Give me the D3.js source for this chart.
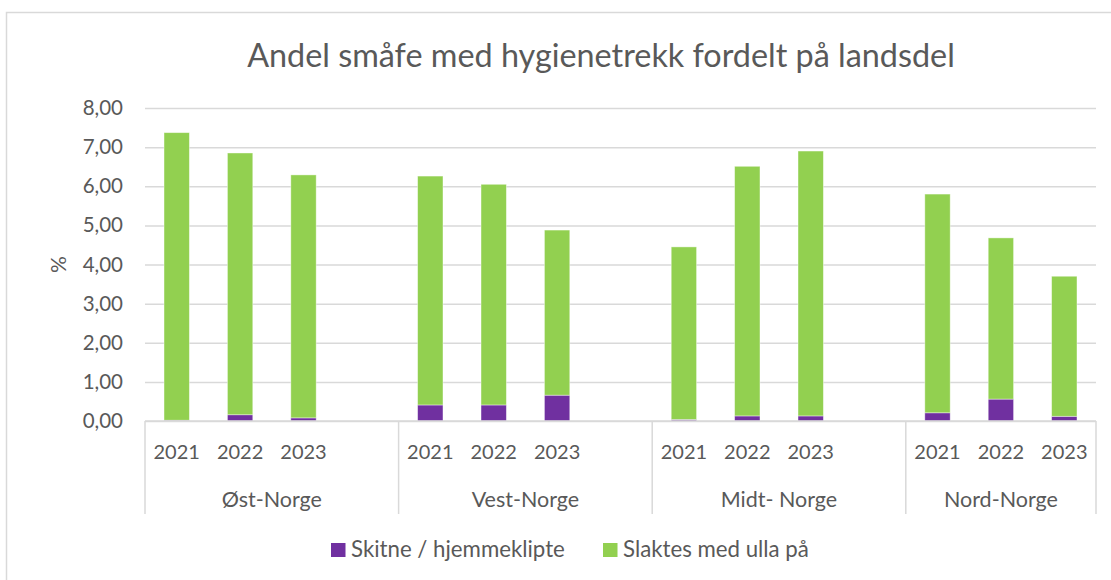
<!DOCTYPE html>
<html>
<head>
<meta charset="utf-8">
<script src="https://cdn.jsdelivr.net/npm/d3@7"></script>
<style>
  html, body { margin: 0; padding: 0; background: #fff; }
  svg { display: block; font-family: Lato, "Open Sans", sans-serif; }
</style>
</head>
<body>
<svg id="chart" width="1111" height="580"></svg>
<script>
// ---- data ----
const title = "Andel småfe med hygienetrekk fordelt på landsdel";
const regions = ["Øst-Norge", "Vest-Norge", "Midt- Norge", "Nord-Norge"];
const years = ["2021", "2022", "2023"];
const seriesNames = ["Skitne / hjemmeklipte", "Slaktes med ulla på"];
const skitne  = [0.02, 0.16, 0.08, 0.41, 0.41, 0.66, 0.04, 0.13, 0.13, 0.21, 0.56, 0.12];
const slaktes = [7.35, 6.69, 6.21, 5.85, 5.64, 4.22, 4.41, 6.38, 6.77, 5.59, 4.12, 3.58];
const yTicks = [0, 1, 2, 3, 4, 5, 6, 7, 8];
const yLabel = "%";

// ---- setup ----
const colors = ["#7030A0", "#92D050"];
const textColor = "#595959";
const gridColor = "#d9d9d9";
const svg = d3.select("#chart");

const W = 1111, H = 580;
const plot = { left: 145, right: 1096, top: 108, bottom: 421 };

// fit a text selection's font size so its first node has a target width
function fitWidth(sel, target, base) {
  sel.style("font-size", base + "px");
  const w = sel.node().getComputedTextLength();
  const fs = base * target / w;
  return fs;
}

// frame
svg.append("rect").attr("x", 6.5).attr("y", 12.5).attr("width", W).attr("height", H)
  .attr("fill", "#fff").attr("stroke", gridColor).attr("stroke-width", 1.5);

// slots: 3 years per region plus an empty slot between regions
const slots = [];
regions.forEach((r, i) => {
  years.forEach((yv, j) => {
    const k = i * years.length + j;
    slots.push({ slot: i * 4 + j, region: r, year: yv, s0: skitne[k], s1: slaktes[k] });
  });
});
const nSlots = regions.length * 4 - 1;

const x = d3.scaleBand().domain(d3.range(nSlots)).range([plot.left, plot.right])
  .paddingInner(0.6).paddingOuter(0.3);
const step = x.step();
const slotLeft = k => plot.left + k * step;
const slotCenter = k => x(k) + x.bandwidth() / 2;

const y = d3.scaleLinear().domain([0, 8]).range([plot.bottom, plot.top]);
const locale = d3.formatLocale({ decimal: ",", thousands: " ", grouping: [3], currency: ["", " kr"] });
const fmt = locale.format(".2f");

// gridlines + y labels via axis
const yAxis = svg.append("g").attr("transform", `translate(${plot.left},0)`)
  .call(d3.axisLeft(y).tickValues(yTicks).tickFormat(fmt)
    .tickSize(-(plot.right - plot.left)).tickPadding(22));
yAxis.select(".domain").remove();
yAxis.selectAll(".tick line").attr("stroke", gridColor).attr("stroke-width", 1.5);
yAxis.selectAll(".tick text").attr("fill", textColor).style("font-size", "20.5px")
  .style("font-family", "Lato, 'Open Sans', sans-serif");

// y label
svg.append("text").attr("transform", `translate(66,${(plot.top + plot.bottom) / 2}) rotate(-90)`)
  .attr("text-anchor", "middle").attr("fill", textColor).style("font-size", "21px").text(yLabel);

// stacked bars
const stack = d3.stack().keys(["s0", "s1"]);
const stacked = stack(slots);
svg.append("g").selectAll("g").data(stacked).join("g")
  .attr("fill", (d, i) => colors[i])
  .selectAll("rect").data(d => d).join("rect")
  .attr("x", d => x(d.data.slot))
  .attr("width", x.bandwidth())
  .attr("y", d => y(d[1]))
  .attr("height", d => Math.max(0, y(d[0]) - y(d[1])))
  .attr("stroke", "rgba(255,255,255,0.5)").attr("stroke-width", 0.8);

// x axis line and group dividers
const axisG = svg.append("g").attr("stroke", gridColor).attr("stroke-width", 1.5);
axisG.append("line").attr("x1", plot.left).attr("x2", plot.right)
  .attr("y1", plot.bottom).attr("y2", plot.bottom);
const dividerSlots = regions.map((r, i) => i * 4).concat([nSlots]);
axisG.selectAll("line.div").data(dividerSlots).join("line").attr("class", "div")
  .attr("x1", k => k === nSlots ? plot.right : slotLeft(k))
  .attr("x2", k => k === nSlots ? plot.right : slotLeft(k))
  .attr("y1", plot.bottom).attr("y2", 514);

// year labels
svg.append("g").selectAll("text").data(slots).join("text")
  .attr("x", d => slotCenter(d.slot)).attr("y", 459)
  .attr("text-anchor", "middle").attr("fill", textColor).style("font-size", "20px")
  .text(d => d.year);

// region labels, centred in each region's span between dividers
const regionText = svg.append("g").selectAll("text").data(regions).join("text")
  .attr("x", (d, i) => {
    const a = slotLeft(i * 4);
    const b = i === regions.length - 1 ? plot.right : slotLeft(i * 4 + 4);
    return (a + b) / 2;
  })
  .attr("y", 507)
  .attr("text-anchor", "middle").attr("fill", textColor)
  .text(d => d);
const regionFs = fitWidth(d3.select(regionText.nodes()[3]), 114, 20);
regionText.style("font-size", Math.min(regionFs, 23).toFixed(2) + "px");

// title
const t = svg.append("text").attr("x", 601).attr("y", 67).attr("text-anchor", "middle")
  .attr("fill", textColor).text(title);
t.style("font-size", fitWidth(t, 708, 28).toFixed(2) + "px");

// legend
const legendItems = [{ name: seriesNames[0], x: 331 }, { name: seriesNames[1], x: 603 }];
const lg = svg.append("g").selectAll("g").data(legendItems).join("g")
  .attr("transform", d => `translate(${d.x},543)`);
lg.append("rect").attr("width", 14.5).attr("height", 14).attr("fill", (d, i) => colors[i]);
const lt = lg.append("text").attr("x", 20).attr("y", 14).attr("fill", textColor)
  .text(d => d.name);
const legendFs = fitWidth(d3.select(lt.nodes()[0]), 214, 20);
lt.style("font-size", Math.min(legendFs, 23).toFixed(2) + "px");
</script>
</body>
</html>
